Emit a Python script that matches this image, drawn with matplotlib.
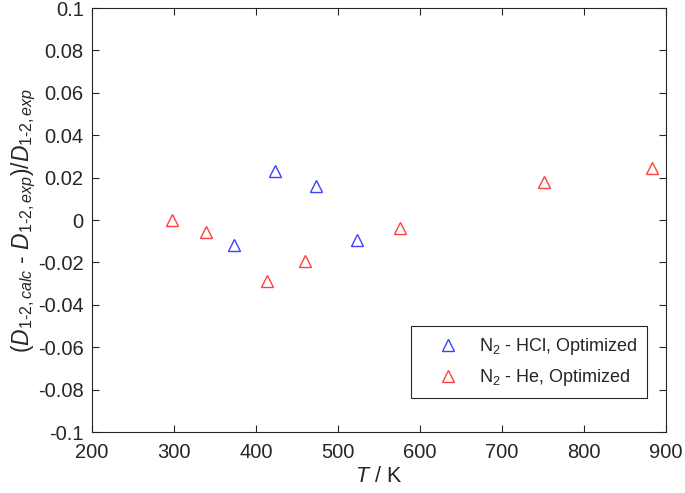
import matplotlib
import matplotlib.pyplot as plt

matplotlib.use('agg')

# N2 - HCl, optimized
t_hcl = [373, 423, 473, 523]
dev_hcl = [-0.0118, 0.0231, 0.0160, -0.0094]

# N2 - He, optimized
t_he = [297, 339, 414, 460, 575, 751, 883]
dev_he = [0.0000, -0.0057, -0.0288, -0.0193, -0.0038, 0.0179, 0.0245]

xticks = [200, 300, 400, 500, 600, 700, 800, 900]
yticks = [-0.1, -0.08, -0.06, -0.04, -0.02, 0, 0.02, 0.04, 0.06, 0.08, 0.1]
ytick_labels = ['-0.1', '-0.08', '-0.06', '-0.04', '-0.02', '0',
                '0.02', '0.04', '0.06', '0.08', '0.1']

plt.rcParams['font.family'] = ['Liberation Sans', 'DejaVu Sans']
plt.rcParams['mathtext.fontset'] = 'custom'
plt.rcParams['mathtext.rm'] = 'Liberation Sans'
plt.rcParams['mathtext.it'] = 'Liberation Sans:italic'

axcol = '#262626'

fig = plt.figure(figsize=(6.85, 4.93), dpi=100)
ax = fig.add_axes([92 / 685, 61 / 493, 574 / 685, 424 / 493])

ax.plot(t_hcl, dev_hcl, linestyle='none', marker='^', markersize=8,
        markerfacecolor='none', markeredgecolor=(0.25, 0.25, 1.0), markeredgewidth=1,
        label=r'N$_2$ - HCl, Optimized')
ax.plot(t_he, dev_he, linestyle='none', marker='^', markersize=8,
        markerfacecolor='none', markeredgecolor=(1.0, 0.25, 0.25), markeredgewidth=1,
        label=r'N$_2$ - He, Optimized')

ax.set_xlim(200, 900)
ax.set_ylim(-0.1, 0.1)
ax.set_xticks(xticks)
ax.set_yticks(yticks)
ax.set_yticklabels(ytick_labels)

ax.tick_params(direction='in', length=5, width=0.8, top=True, right=True,
               labelsize=14.5, colors=axcol, labelcolor=axcol, pad=6)
ax.tick_params(axis='x', pad=8)
for s in ax.spines.values():
    s.set_color(axcol)
    s.set_linewidth(0.8)

ax.set_xlabel(r'$T$ / K', fontsize=15.5, color=axcol, labelpad=3)
ax.set_ylabel(r'$(D_{1\text{-}2,calc}$ - $D_{1\text{-}2,exp})/D_{1\text{-}2,exp}$',
              fontsize=16.5, color=axcol, labelpad=0)

leg = ax.legend(loc='lower right', bbox_to_anchor=(0.967, 0.08), fontsize=13,
                frameon=True, fancybox=False, edgecolor=axcol, framealpha=1,
                handlelength=3.0, handletextpad=0.2, borderpad=0.55,
                labelspacing=0.55, borderaxespad=0)
leg.get_frame().set_linewidth(0.8)
for txt in leg.get_texts():
    txt.set_color(axcol)

plt.savefig('out.png', dpi=100)
plt.close()
